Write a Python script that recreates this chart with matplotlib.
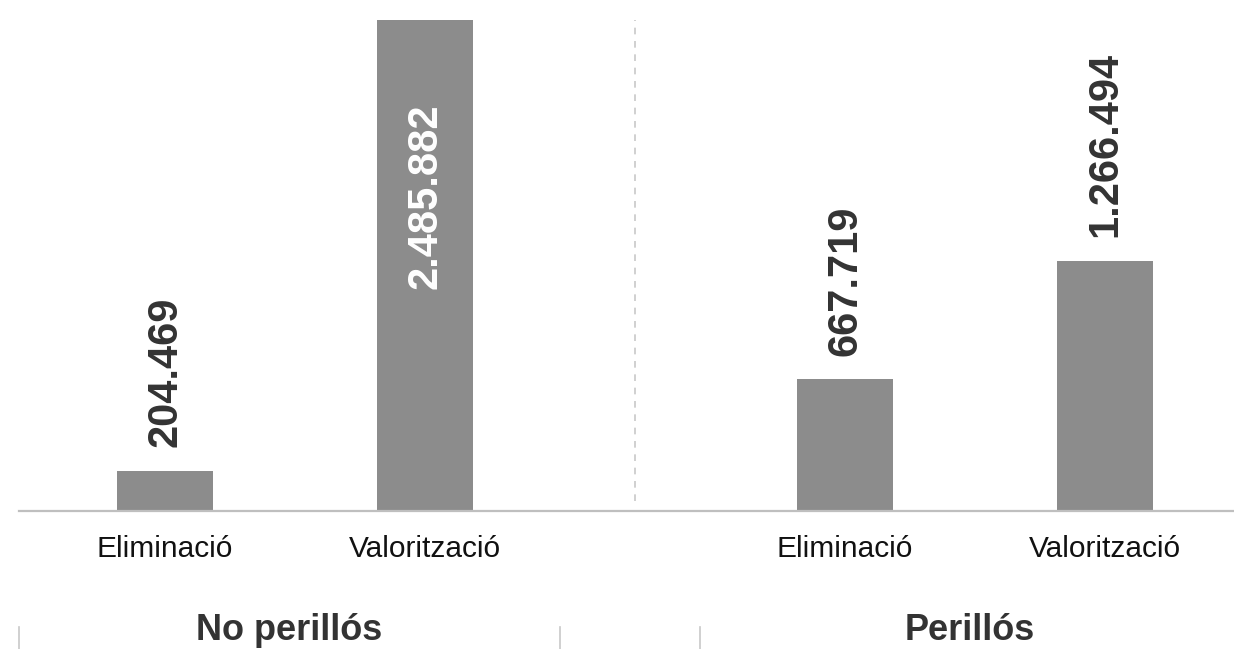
import matplotlib
matplotlib.use("Agg")
import matplotlib.pyplot as plt
from matplotlib.transforms import blended_transform_factory

plt.rcParams['font.family'] = ['Liberation Sans', 'DejaVu Sans']

# Data
groups = ["No perillós", "Perillós"]
categories = ["Eliminació", "Valorització", "Eliminació", "Valorització"]
values = [204469, 2485882, 667719, 1266494]

BAR_COLOR = "#8c8c8c"
TEXT_DARK = "#333333"


def fmt(v):
    # thousands separator with dots
    return f"{v:,}".replace(",", ".")


fig = plt.figure(figsize=(12.34, 6.49), dpi=100)
# axes spans from the left edge of the baseline to the right border
ax = fig.add_axes([19 / 1234, 138 / 649, 1 - 19 / 1234, (649 - 138 - 20) / 649])

# bar positions: two bars per group, groups spaced apart
group_gap = 680 / 260
x = []
for g in range(len(groups)):
    x += [g * group_gap, g * group_gap + 1]
width = 96 / 260

ax.bar(x, values, width=width, color=BAR_COLOR, zorder=2)

vmax = max(values)
ax.set_ylim(0, vmax)
ax.set_xlim(-146 / 260, (1234 - 165) / 260)

for xi, v in zip(x, values):
    if v > 0.9 * vmax:
        ax.annotate(fmt(v), (xi, v), xytext=(0, -60), textcoords="offset points",
                    rotation=90, ha="center", va="top", fontsize=30,
                    fontweight="bold", color="white")
    else:
        ax.annotate(fmt(v), (xi, v), xytext=(0, 17), textcoords="offset points",
                    rotation=90, ha="center", va="bottom", fontsize=30,
                    fontweight="bold", color=TEXT_DARK)

# category labels
ax.set_xticks(x)
ax.set_xticklabels(categories, fontsize=21.5, color="#111111")
ax.tick_params(axis="x", length=0, pad=17)
ax.set_yticks([])

# group labels
trans = blended_transform_factory(ax.transData, ax.transAxes)
for g, name in enumerate(groups):
    cx = g * group_gap + 0.5
    ax.annotate(name, (cx, 0), xycoords=trans, xytext=(-4, -93),
                textcoords="offset points", ha="center", va="baseline",
                fontsize=26, fontweight="bold", color=TEXT_DARK)

# dashed separator between groups
sep = (x[1] + x[2]) / 2
ax.axvline(sep, ymin=0.02, ymax=1, color="#c8c8c8", lw=1.2,
           linestyle=(0, (4, 4)), zorder=1)

# group divider ticks below the chart
for px in [19, 560, 700]:
    fig.add_artist(plt.Line2D([px / 1234, px / 1234], [0, 22 / 649],
                              color="#c8c8c8", lw=1.2))

for s in ["top", "left", "right"]:
    ax.spines[s].set_visible(False)
ax.spines["bottom"].set_color("#bfbfbf")
ax.spines["bottom"].set_linewidth(1.6)
ax.spines["bottom"].set_zorder(3)

fig.savefig("out.png", dpi=100, facecolor="white")
